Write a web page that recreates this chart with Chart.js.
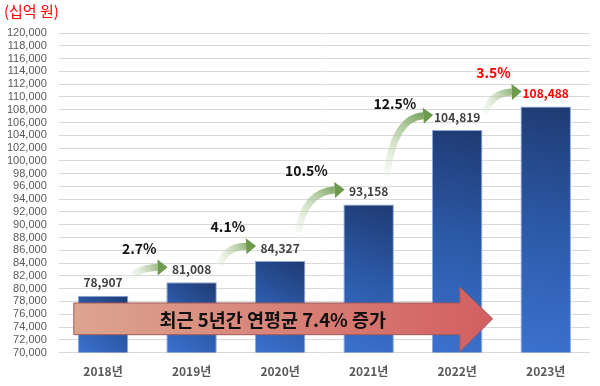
<!DOCTYPE html>
<html>
    <head>
        <meta charset="utf-8" />
        <script src="https://cdn.jsdelivr.net/npm/chart.js@4.4.0/dist/chart.umd.min.js"></script>
        <style>
            * { margin: 0; padding: 0; box-sizing: border-box; }
            body { background-color: #ffffff; }
            #wrap { width: 600px; height: 386px; position: relative; }
        </style>
    </head>
    <body>
        <div id="wrap"><canvas id="myChart"></canvas></div>

        <script>
            const years = ['2018년', '2019년', '2020년', '2021년', '2022년', '2023년'];
            const amounts = [78907, 81008, 84327, 93158, 104819, 108488];
            const growth = ['2.7%', '4.1%', '10.5%', '12.5%', '3.5%'];
            const unitLabel = '(십억 원)';
            const summaryText = '최근 5년간 연평균 7.4% 증가';

            const KR = '"Noto Sans CJK KR", "Noto Sans", sans-serif';

            // bar gradient: lighter blue bottom-left, navy top-right
            function barFill(ctx) {
                const chart = ctx.chart;
                const xs = chart.scales.x, ys = chart.scales.y;
                if (!xs || !ys || ctx.dataIndex === undefined) return '#2f5597';
                const x = xs.getPixelForValue(ctx.dataIndex);
                const top = ys.getPixelForValue(amounts[ctx.dataIndex]);
                const bot = ys.getPixelForValue(70000);
                if (![x, top, bot].every(Number.isFinite)) return '#2f5597';
                const g = chart.ctx.createLinearGradient(x - 25, bot, x + 25, top);
                g.addColorStop(0, '#3b71cf');
                g.addColorStop(0.5, '#2c5aa8');
                g.addColorStop(1, '#1f3a72');
                return g;
            }

            const overlay = {
                id: 'overlay',
                afterDatasetsDraw(chart) {
                    const c = chart.ctx;
                    const meta = chart.getDatasetMeta(0);
                    const ys = chart.scales.y;
                    const xs = chart.scales.x;
                    const labelY = meta.data.map(b => b.y - 13);

                    c.save();
                    c.textAlign = 'center';
                    c.textBaseline = 'middle';
                    meta.data.forEach((b, i) => {
                        c.font = 'bold 12px ' + KR;
                        c.fillStyle = i === amounts.length - 1 ? '#ff0000' : '#404040';
                        c.fillText(amounts[i].toLocaleString('en-US'), b.x, labelY[i]);
                    });

                    // green growth arrows + percent labels
                    for (let i = 0; i < growth.length; i++) {
                        const a = meta.data[i], b = meta.data[i + 1];
                        const rise = labelY[i] - labelY[i + 1];
                        const big = rise > 40;
                        const tx = a.x + (big ? 18 : 28);
                        const ty = labelY[i] - (big ? 16 : 4);
                        const hx = b.x - 24, hy = labelY[i + 1] - 2;
                        const cx = tx + (hx - tx) * 0.15, cy = hy + (ty - hy) * 0.05;
                        const g = c.createLinearGradient(tx, ty, hx, hy);
                        g.addColorStop(0, 'rgba(226,239,218,0.3)');
                        g.addColorStop(1, '#6e9a4e');
                        const dx = hx - cx, dy = hy - cy;
                        const len = Math.hypot(dx, dy);
                        const ux = dx / len, uy = dy / len;
                        const bx = hx - ux * 10, by = hy - uy * 10;
                        c.beginPath();
                        c.moveTo(tx, ty);
                        c.quadraticCurveTo(cx, cy, bx, by);
                        c.strokeStyle = g;
                        c.lineWidth = 7;
                        c.stroke();
                        c.beginPath();
                        c.moveTo(hx, hy);
                        c.lineTo(bx - uy * 8, by + ux * 8);
                        c.lineTo(bx + uy * 8, by - ux * 8);
                        c.closePath();
                        c.fillStyle = '#6e9a4e';
                        c.fill();

                        c.font = 'bold 14px ' + KR;
                        c.fillStyle = i === growth.length - 1 ? '#ff0000' : '#111111';
                        c.fillText(growth[i], (a.x + b.x) / 2 - (big ? 18 : 8), labelY[i + 1] - (rise > 60 ? 13 : 21));
                    }

                    // big summary arrow
                    const step = xs.getPixelForValue(1) - xs.getPixelForValue(0);
                    const left = xs.getPixelForValue(0) - step * 0.33;
                    const headX = xs.getPixelForValue(4) + step * 0.03;
                    const tipX = xs.getPixelForValue(4) + step * 0.4;
                    const bodyTop = ys.getPixelForValue(77760);
                    const bodyBot = ys.getPixelForValue(72800);
                    const headTop = ys.getPixelForValue(80250);
                    const headBot = ys.getPixelForValue(70150);
                    const midY = (bodyTop + bodyBot) / 2;
                    const rg = c.createLinearGradient(left, 0, tipX, 0);
                    rg.addColorStop(0, '#dca58f');
                    rg.addColorStop(1, '#d35f60');
                    c.beginPath();
                    c.moveTo(left, bodyTop);
                    c.lineTo(headX, bodyTop);
                    c.lineTo(headX, headTop);
                    c.lineTo(tipX, midY);
                    c.lineTo(headX, headBot);
                    c.lineTo(headX, bodyBot);
                    c.lineTo(left, bodyBot);
                    c.closePath();
                    c.fillStyle = rg;
                    c.fill();
                    c.strokeStyle = '#a05a5a';
                    c.lineWidth = 1;
                    c.stroke();
                    c.font = 'bold 18.5px ' + KR;
                    c.fillStyle = '#111111';
                    c.fillText(summaryText, (left + headX) / 2 + 6, midY + 1);

                    // unit label
                    c.textAlign = 'left';
                    c.font = '15px ' + KR;
                    c.fillStyle = '#ff0000';
                    c.fillText(unitLabel, 4, 11);
                    c.restore();
                }
            };

            const data = {
                labels: years,
                datasets: [{
                    data: amounts,
                    backgroundColor: barFill,
                    borderColor: '#8ea9db',
                    borderWidth: 1,
                    barPercentage: 0.57,
                    categoryPercentage: 1
                }]
            };

            const chartConfig = {
                type: 'bar',
                data,
                plugins: [overlay],
                options: {
                    responsive: true,
                    maintainAspectRatio: false,
                    animation: false,
                    layout: { padding: { top: 33, right: 10, left: -5, bottom: -5 } },
                    plugins: {
                        legend: { display: false },
                        tooltip: { enabled: false }
                    },
                    scales: {
                        x: {
                            grid: { display: false, drawTicks: false },
                            border: { display: false },
                            ticks: {
                                color: '#595959',
                                padding: 12,
                                font: { family: KR, size: 12, weight: 'bold' }
                            }
                        },
                        y: {
                            min: 70000,
                            max: 120000,
                            border: { display: false },
                            grid: { color: '#d9d9d9', drawTicks: false },
                            ticks: {
                                stepSize: 2000,
                                autoSkip: false,
                                padding: 12,
                                color: '#595959',
                                font: { family: '"Liberation Sans", sans-serif', size: 11 },
                                callback: v => v.toLocaleString('en-US')
                            }
                        }
                    }
                }
            };

            new Chart(document.getElementById('myChart'), chartConfig);
        </script>
    </body>
</html>
